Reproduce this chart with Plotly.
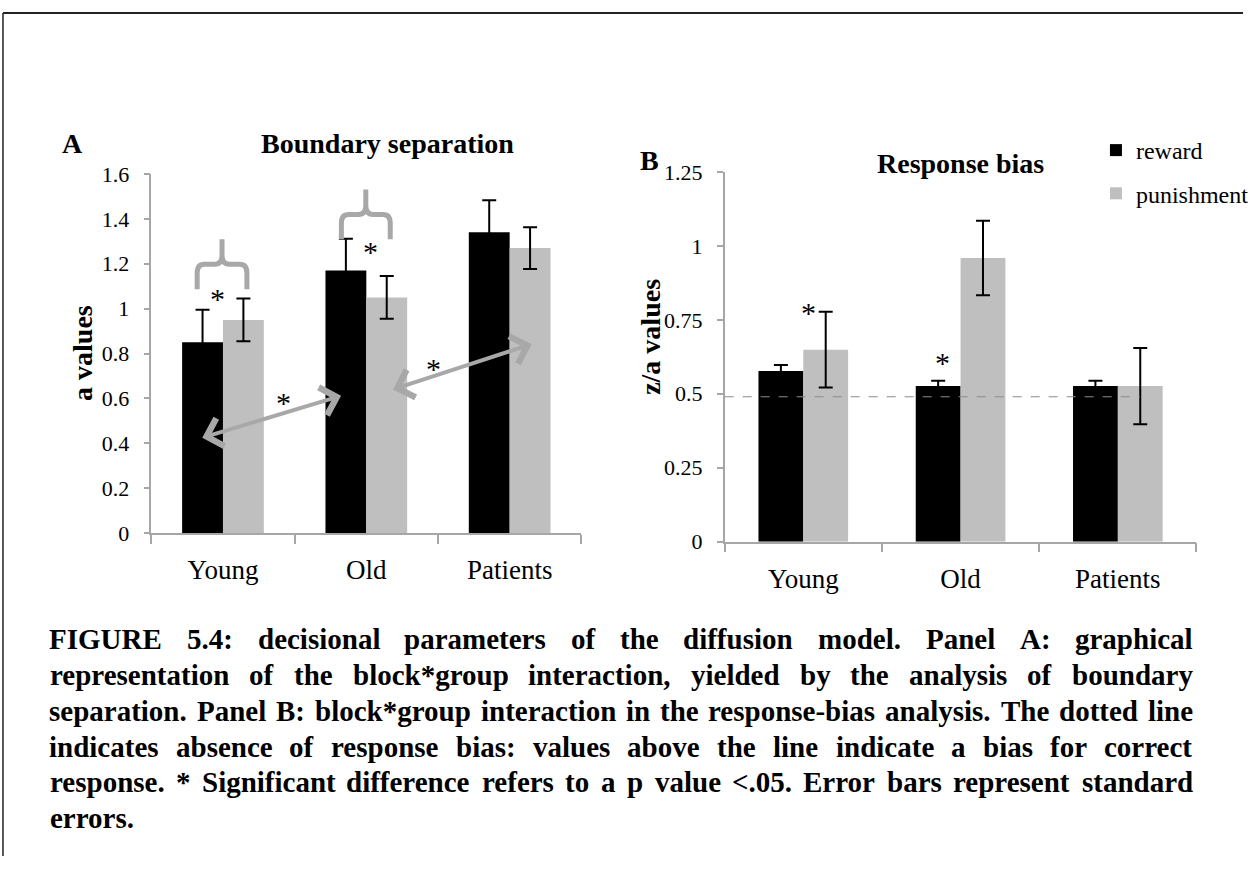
import plotly.graph_objects as go

# ---------------- data ----------------
groups = ["Young", "Old", "Patients"]
conditions = ["reward", "punishment"]

a_reward = [0.85, 1.17, 1.34]
a_reward_se = [0.145, 0.142, 0.143]
a_punish = [0.95, 1.05, 1.27]
a_punish_se = [0.095, 0.095, 0.093]

za_reward = [0.577, 0.526, 0.526]
za_reward_se = [0.02, 0.018, 0.018]
za_punish = [0.649, 0.959, 0.526]
za_punish_se = [0.128, 0.126, 0.129]
no_bias_level = 0.49

a_ticks = [0, 0.2, 0.4, 0.6, 0.8, 1.0, 1.2, 1.4, 1.6]
za_ticks = [0, 0.25, 0.5, 0.75, 1.0, 1.25]

caption_lines = [
    "FIGURE 5.4: decisional parameters of the diffusion model. Panel A: graphical",
    "representation of the block*group interaction, yielded by the analysis of boundary",
    "separation. Panel B: block*group interaction in the response-bias analysis. The dotted line",
    "indicates absence of response bias: values above the line indicate a bias for correct",
    "response. * Significant difference refers to a p value <.05. Error bars represent standard",
    "errors.",
]

# significance markers (group index position, value)
stars_a = [(-0.04, 1.045), (1.026, 1.255), (0.424, 0.58), (1.472, 0.735)]
stars_b = [(0.03, 0.775), (0.882, 0.605)]
# double arrows in panel A: (x_start, y_start, x_end, y_end)
arrows_a = [(-0.155, 0.423, 0.824, 0.612), (1.176, 0.638, 2.153, 0.842)]
# braces in panel A: (x_left, x_right, y_ends, y_horizontal, y_peak)
braces_a = [(-0.18, 0.167, 1.087, 1.198, 1.309), (0.826, 1.167, 1.309, 1.42, 1.531)]

# ---------------- page geometry ----------------
W, H = 1254, 869
OY, SY = 12.9, 0.972   # observed vertical placement of the page in the capture
SX = 0.9958            # observed horizontal scale of the capture
def X(px):
    return (px / SX) / W
def Y(py):
    return 1 - ((py - OY) / SY) / H

BLACK = "#000000"
GREY = "#bfbfbf"
LINE = "#a6a6a6"
SERIF = "Liberation Serif"

xpos = list(range(len(groups)))

fig = go.Figure()
err = dict(type="data", color="black", thickness=2, width=7)
fig.add_bar(x=xpos, y=a_reward, name=conditions[0], marker=dict(color=BLACK, line=dict(width=0)),
            error_y=dict(err, array=a_reward_se), xaxis="x", yaxis="y", legendgroup="r")
fig.add_bar(x=xpos, y=a_punish, name=conditions[1], marker=dict(color=GREY, line=dict(width=0)),
            error_y=dict(err, array=a_punish_se), xaxis="x", yaxis="y", legendgroup="p")
fig.add_bar(x=xpos, y=za_reward, name=conditions[0], marker=dict(color=BLACK, line=dict(width=0)),
            error_y=dict(err, array=za_reward_se), xaxis="x2", yaxis="y2", showlegend=False)
fig.add_bar(x=xpos, y=za_punish, name=conditions[1], marker=dict(color=GREY, line=dict(width=0)),
            error_y=dict(err, array=za_punish_se), xaxis="x2", yaxis="y2", showlegend=False)

def xaxis_cfg(domain, anchor):
    return dict(domain=domain, anchor=anchor, range=[-0.5, len(groups) - 0.5],
                tickvals=xpos, ticktext=groups, ticks="", showline=True,
                linecolor=LINE, linewidth=1.5, showgrid=False, zeroline=False,
                tickfont=dict(family=SERIF, size=27, color="black"),
                ticklabelstandoff=12,
                minor=dict(tick0=-0.5, dtick=1, ticks="outside", ticklen=9,
                           tickcolor=LINE, tickwidth=1.5),
                fixedrange=True)

def yaxis_cfg(domain, anchor, rng, tv):
    return dict(domain=domain, anchor=anchor, range=rng, tickvals=tv,
                ticks="outside", ticklen=6, tickcolor=LINE, tickwidth=1.5,
                showline=True, linecolor=LINE, linewidth=1.5, showgrid=False,
                zeroline=False, tickfont=dict(family=SERIF, size=22, color="black"),
                ticklabelstandoff=10, fixedrange=True)

fig.update_layout(
    width=W, height=H, margin=dict(l=0, r=0, t=0, b=0),
    paper_bgcolor="white", plot_bgcolor="white",
    barmode="group", bargap=0.43, bargroupgap=0,
    xaxis=xaxis_cfg([X(152), X(584)], "y"),
    yaxis=yaxis_cfg([Y(534.5), Y(175)], "x", [0, 1.6], a_ticks),
    xaxis2=xaxis_cfg([X(728), X(1202)], "y2"),
    yaxis2=yaxis_cfg([Y(543), Y(173)], "x2", [0, 1.25], za_ticks),
    showlegend=True,
    legend=dict(x=X(1101), y=Y(129), xanchor="left", yanchor="top",
                font=dict(family=SERIF, size=24, color="black"),
                bgcolor="rgba(0,0,0,0)", tracegroupgap=9, itemwidth=30),
    font=dict(family=SERIF, color="black"),
)

# panel titles, letters and y-axis titles
for txt, px, py, ang in [("Boundary separation", 389, 145, 0), ("Response bias", 965, 165, 0),
                         ("A", 73, 145, 0), ("B", 652, 162, 0),
                         ("a values", 83.5, 354, -90), ("z/a values", 654, 338, -90)]:
    fig.add_annotation(text=txt, x=X(px), y=Y(py), xref="paper", yref="paper",
                       showarrow=False, xanchor="center", yanchor="middle", textangle=ang,
                       font=dict(family=SERIF, size=28, color="black", weight="bold"))

# stars
for (sx, sy) in stars_a:
    fig.add_annotation(text="*", x=sx, y=sy, xref="x", yref="y", showarrow=False,
                       font=dict(family=SERIF, size=30, color="black"))
for (sx, sy) in stars_b:
    fig.add_annotation(text="*", x=sx, y=sy, xref="x2", yref="y2", showarrow=False,
                       font=dict(family=SERIF, size=30, color="black"))

# double-headed arrows
for (x0, y0, x1, y1) in arrows_a:
    fig.add_annotation(text="", x=x1, y=y1, ax=x0, ay=y0, xref="x", yref="y",
                       axref="x", ayref="y", showarrow=True, arrowside="end+start",
                       arrowhead=4, startarrowhead=4, arrowsize=1.4, startarrowsize=1.4,
                       arrowwidth=4, arrowcolor="#a8a8a8", standoff=0, startstandoff=0)

# braces
def brace_path(xl, xr, yb, yh, yp):
    xc = (xl + xr) / 2
    rx, ry = 0.05, 0.04
    return (f"M{xl},{yb} L{xl},{yh - ry} Q{xl},{yh} {xl + rx},{yh} L{xc - rx},{yh} "
            f"Q{xc},{yh} {xc},{yh + ry} L{xc},{yp} "
            f"M{xc},{yh + ry} Q{xc},{yh} {xc + rx},{yh} L{xr - rx},{yh} "
            f"Q{xr},{yh} {xr},{yh - ry} L{xr},{yb}")

for b in braces_a:
    fig.add_shape(type="path", path=brace_path(*b), xref="x", yref="y",
                  line=dict(color="#a8a8a8", width=5))

# no-bias dashed line
fig.add_shape(type="line", x0=-0.5, x1=2.14, y0=no_bias_level, y1=no_bias_level,
              xref="x2", yref="y2", line=dict(color="#8c8c8c", width=1.2, dash="dash"))

# page frame
top = 1 - 1.0 / H
fig.add_shape(type="line", x0=X(3), x1=1, y0=top, y1=top, xref="paper", yref="paper",
              line=dict(color="#222222", width=2))
fig.add_shape(type="line", x0=X(3), x1=X(3), y0=top, y1=0, xref="paper", yref="paper",
              line=dict(color="#222222", width=1.5))

# caption, justified word by word (Times-Bold metrics)
TB = {' ': 250, '!': 333, '*': 500, ',': 250, '-': 333, '.': 250, ':': 333, '<': 570,
      '0': 500, '1': 500, '2': 500, '3': 500, '4': 500, '5': 500, '6': 500, '7': 500, '8': 500, '9': 500,
      'A': 722, 'B': 667, 'C': 722, 'D': 722, 'E': 667, 'F': 611, 'G': 778, 'H': 778, 'I': 389,
      'J': 500, 'K': 778, 'L': 667, 'M': 944, 'N': 722, 'O': 778, 'P': 611, 'Q': 778, 'R': 722,
      'S': 556, 'T': 667, 'U': 722, 'V': 722, 'W': 1000, 'X': 722, 'Y': 722, 'Z': 667,
      'a': 500, 'b': 556, 'c': 444, 'd': 556, 'e': 444, 'f': 333, 'g': 500, 'h': 556, 'i': 278,
      'j': 333, 'k': 556, 'l': 278, 'm': 833, 'n': 556, 'o': 500, 'p': 556, 'q': 556, 'r': 444,
      's': 389, 't': 333, 'u': 556, 'v': 500, 'w': 722, 'x': 500, 'y': 500, 'z': 444}
CAP_FS = 29
CAP_L, CAP_R = 50, 1198
def wpx(word):
    return sum(TB.get(c, 500) for c in word) / 1000 * CAP_FS

for i, line in enumerate(caption_lines):
    py = 640 + 36 * i
    words = line.split(" ")
    widths = [wpx(w) for w in words]
    if i < len(caption_lines) - 1 and len(words) > 1:
        gap = (CAP_R - CAP_L - sum(widths)) / (len(words) - 1)
    else:
        gap = wpx(" ")
    cur = CAP_L
    for w, wd in zip(words, widths):
        fig.add_annotation(text=w.replace("<", "&lt;"), x=X(cur + wd / 2), y=Y(py),
                           xref="paper", yref="paper", showarrow=False,
                           xanchor="center", yanchor="middle", borderpad=0,
                           font=dict(family=SERIF, size=CAP_FS, color="black", weight="bold"))
        cur += wd + gap

post = ("document.documentElement.style.margin='0';document.body.style.margin='0';"
        "document.documentElement.style.overflow='hidden';document.body.style.overflow='hidden';"
        "var gd=document.getElementById('{plot_id}');gd.style.position='fixed';"
        "gd.style.left='0px';gd.style.top='0px';")
fig.write_html("out.html", config={"displayModeBar": False}, post_script=post)
